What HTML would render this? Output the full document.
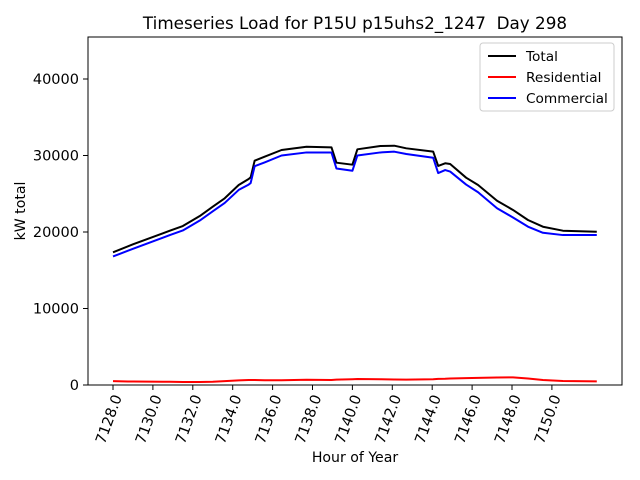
<!DOCTYPE html>
<html><head><meta charset="utf-8"><style>
body{margin:0;background:#fff}
svg{display:block;font-family:"DejaVu Sans","Liberation Sans",sans-serif}
</style></head><body>
<svg id="chart" width="640" height="480" viewBox="0 0 640 480">
<rect width="640" height="480" fill="#fff"/>
<text x="355" y="29" font-size="16.8" text-anchor="middle">Timeseries Load for P15U p15uhs2_1247&#160; Day 298</text>
<g id="plot"></g>
<rect x="88" y="37" width="534" height="348" fill="none" stroke="#000" stroke-width="1"/>
<text x="355" y="462" font-size="14.1" text-anchor="middle">Hour of Year</text>
<text transform="translate(25,211) rotate(-90)" font-size="14.1" text-anchor="middle">kW total</text>
<g>
<rect x="480" y="43" width="134" height="68" fill="#fff" stroke="#ccc" rx="3"/>
<line x1="488" y1="56" x2="516" y2="56" stroke="#000" stroke-width="2"/>
<text x="526" y="61" font-size="13.7">Total</text>
<line x1="488" y1="77" x2="516" y2="77" stroke="red" stroke-width="2"/>
<text x="526" y="82" font-size="13.7">Residential</text>
<line x1="488" y1="98" x2="516" y2="98" stroke="blue" stroke-width="2"/>
<text x="526" y="103" font-size="13.7">Commercial</text>
</g>
</svg>
<script>
const hours=[7128.0,7129.0,7130.5,7130.85,7131.5,7132.35,7133.0,7133.6,7134.3,7134.8,7134.9,7135.1,7135.6,7136.45,7137.7,7138.95,7139.2,7140.0,7140.25,7141.4,7142.1,7142.7,7144.05,7144.3,7144.65,7144.9,7145.7,7146.3,7147.25,7148.05,7148.8,7149.55,7150.55,7152.25];
const total=[17350,18390,19830,20170,20780,22090,23310,24410,26140,26930,27150,29320,29840,30720,31150,31070,29060,28800,30810,31240,31280,30940,30500,28630,28980,28890,27100,26140,24090,22880,21570,20690,20170,20040];
const residential=[500,450,420,420,400,400,420,500,600,650,650,650,620,620,680,660,700,750,780,750,720,700,750,800,820,850,900,930,980,1000,850,650,520,480];
const commercial=[16800,17800,19250,19600,20200,21500,22700,23800,25500,26200,26400,28600,29100,30000,30400,30400,28300,28000,30000,30400,30500,30200,29700,27700,28100,27900,26200,25200,23100,21900,20700,19900,19600,19600];
const xTicks=[7128,7130,7132,7134,7136,7138,7140,7142,7144,7146,7148,7150];
const yTicks=[0,10000,20000,30000,40000];
const X=h=>113+(h-7128)*19.95;
const Y=v=>385-v*0.00765;
const NS="http://www.w3.org/2000/svg";
const g=document.getElementById('plot');
function mk(t,a){const e=document.createElementNS(NS,t);for(const k in a)e.setAttribute(k,a[k]);g.appendChild(e);return e;}
xTicks.forEach(t=>{
 const l=mk('line',{x1:X(t),x2:X(t),y1:385,y2:390,stroke:'#000'});
 
 
 const x=X(t)+9,y=397;
 const tx=mk('text',{x:x,y:y,'font-size':14.5,'text-anchor':'end',transform:`rotate(-70 ${x} ${y})`});
 tx.textContent=t.toFixed(1);
 
 
});
yTicks.forEach(t=>{
 const l=mk('line',{x1:83,x2:88,y1:Y(t),y2:Y(t),stroke:'#000'});
 
 
 const tx=mk('text',{x:79,y:Y(t)+5,'font-size':14.5,'text-anchor':'end'});
 tx.textContent=t;
 
 
});
function series(vals,color,name){
 const p=mk('polyline',{points:hours.map((h,i)=>X(h)+','+Y(vals[i])).join(' '),fill:'none',stroke:color,'stroke-width':2,'stroke-linejoin':'round'});
 
 
}
series(total,'#000','total-line');
series(residential,'red','residential-line');
series(commercial,'blue','commercial-line');
</script>
</body></html>
